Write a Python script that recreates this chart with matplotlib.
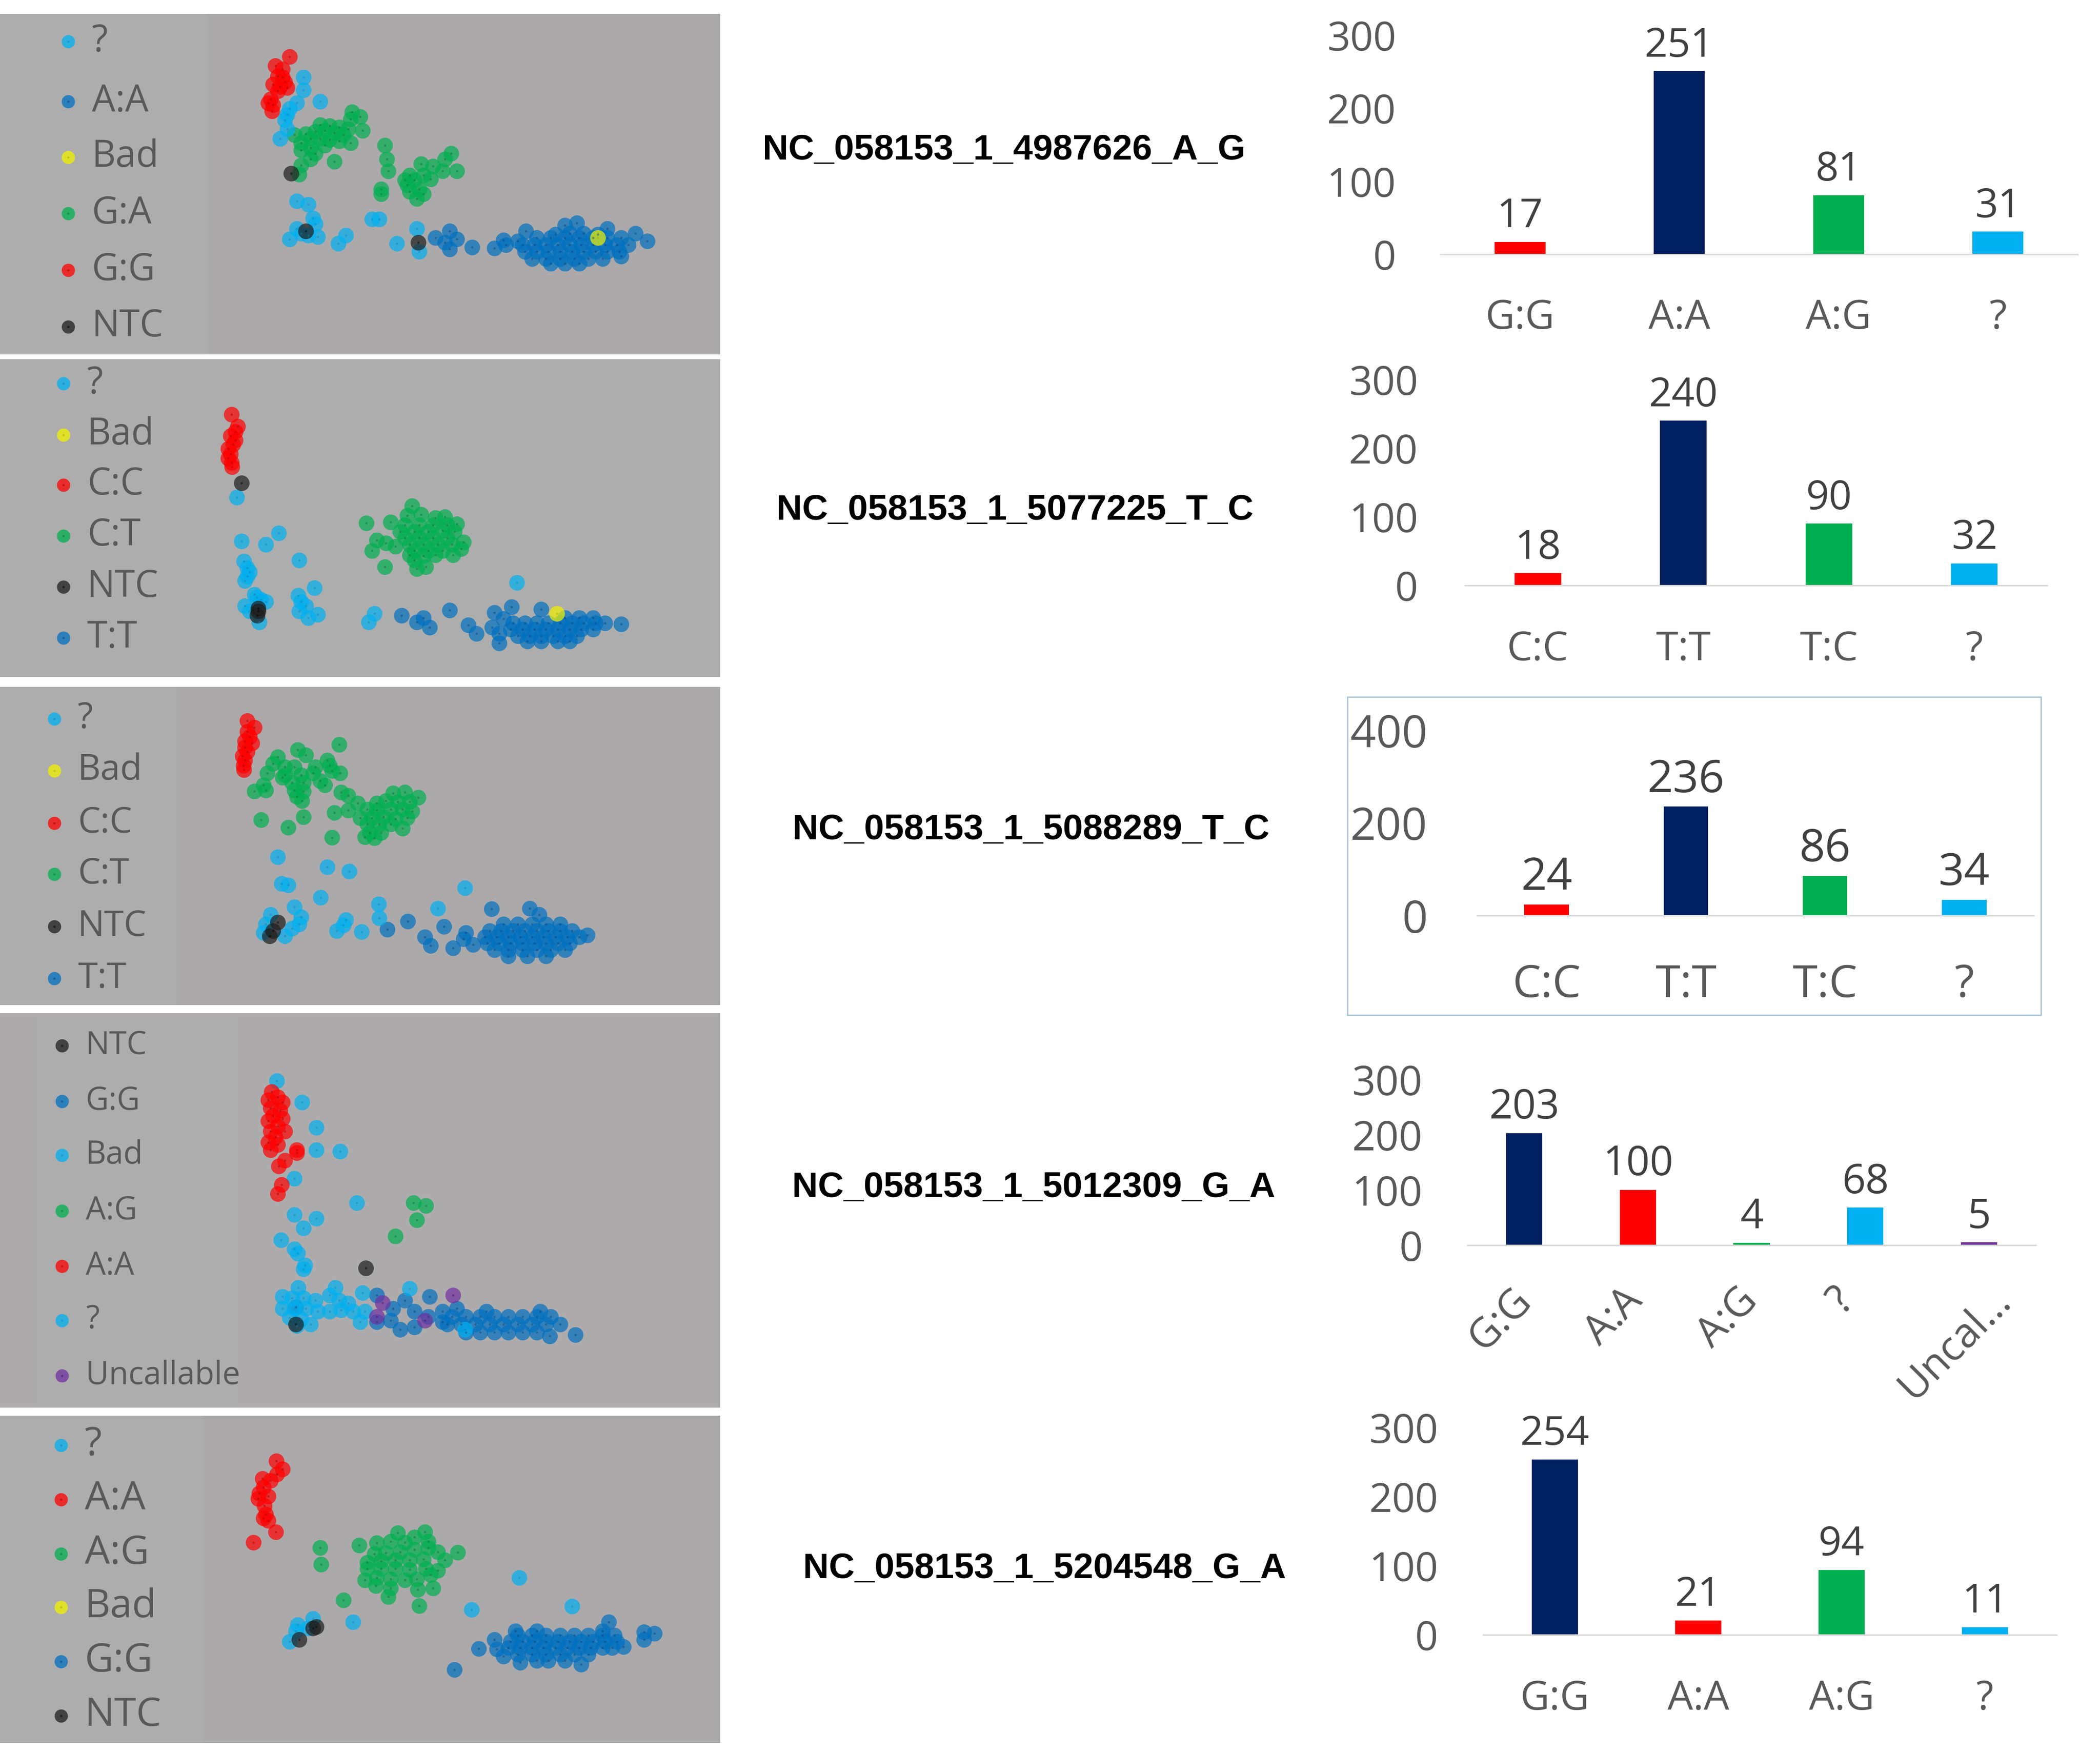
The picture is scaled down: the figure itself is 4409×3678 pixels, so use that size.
import matplotlib.pyplot as plt
from matplotlib.patches import Rectangle

# ---------------- figure geometry (pixels of the final image) ----------------
W, H = 4409, 3678
fig = plt.figure(figsize=(W / 100, H / 100), dpi=100, facecolor='white')


def box(x0, y0, x1, y1):
    """pixel box (top-left origin) -> figure fraction rect"""
    return [x0 / W, 1 - y1 / H, (x1 - x0) / W, (y1 - y0) / H]


# ---------------- colours ----------------
LBLUE = '#00b0f0'
BLUE = '#0070c0'
NAVY = '#002060'
GREEN = '#00b050'
RED = '#ff0000'
YELLOW = '#f2f200'
BLACK = '#1e1e1e'
PURPLE = '#7030a0'
DOT = {LBLUE: '#1c7fae', BLUE: '#123f70', GREEN: '#126b38', RED: '#a00000',
       YELLOW: '#a8a800', BLACK: '#000000', PURPLE: '#3c1660'}

# ---------------- cluster plot data (signal units) ----------------
# panel 1 : NC_058153_1_4987626_A_G
p1_aa = [(925, 1030), (955, 1000), (945, 1050), (970, 1035), (955, 1080), (1003, 1070),
         (1050, 1075), (1075, 1060), (1070, 1040), (1117, 1000), (1100, 1045), (1200, 975),
         (1225, 965), (1290, 990), (1350, 1010), (1375, 1045), (1180, 1015), (1210, 1010),
         (1240, 1010), (1270, 1015), (1320, 1110),
         (1140, 1030), (1170, 1030), (1200, 1030), (1230, 1030), (1260, 1030), (1290, 1030), (1320, 1030),
         (1110, 1060), (1135, 1060), (1160, 1060), (1185, 1060), (1210, 1060), (1235, 1060),
         (1260, 1060), (1285, 1060), (1310, 1060), (1335, 1060),
         (1115, 1090), (1140, 1090), (1165, 1090), (1190, 1090), (1215, 1090), (1240, 1090),
         (1265, 1090), (1290, 1090), (1315, 1090),
         (1130, 1120), (1160, 1120), (1190, 1120), (1220, 1120), (1250, 1120), (1280, 1120),
         (1170, 1140), (1200, 1140), (1230, 1140)]
p1_ga = [(748, 485), (765, 505), (745, 515), (680, 540), (700, 545), (720, 550), (740, 560),
         (770, 565), (625, 585), (650, 580), (670, 570), (690, 565), (710, 575), (730, 585),
         (660, 600), (680, 600), (700, 605), (720, 610), (745, 620), (640, 620), (660, 640),
         (690, 630), (640, 650), (670, 665), (660, 690), (710, 700), (640, 715), (635, 755),
         (818, 630), (822, 690), (825, 740), (810, 820), (810, 840), (895, 710), (920, 720),
         (945, 690), (958, 665), (970, 740), (870, 760), (865, 800), (880, 780), (900, 760),
         (915, 775), (890, 820), (870, 830), (885, 860), (900, 840), (940, 740), (860, 780)]
p1_gg = [(615, 245), (585, 285), (600, 300), (590, 330), (600, 335), (605, 355), (580, 365),
         (595, 375), (610, 380), (590, 395), (575, 430), (570, 445), (580, 455), (578, 480)]
p1_q = [(645, 335), (645, 390), (680, 440), (630, 445), (615, 470), (610, 495), (605, 520),
        (610, 560), (595, 600), (630, 870), (655, 885), (665, 945), (670, 970), (630, 990),
        (640, 1010), (655, 1020), (675, 1025), (615, 1035), (735, 1020), (718, 1055),
        (790, 950), (805, 950), (843, 1055), (885, 990), (890, 1090)]
p1_bad = [(1270, 1030)]
p1_ntc = [(618, 752), (650, 1000), (888, 1050)]

# panel 2 : NC_058153_1_5077225_T_C
p2_tt = [(853, 1215), (885, 1245), (900, 1225), (913, 1270), (955, 1190), (995, 1260),
         (1012, 1300), (1050, 1200), (1087, 1175), (1070, 1230), (1150, 1185), (1045, 1270),
         (1060, 1300), (1060, 1345), (1320, 1255),
         (1200, 1225), (1230, 1225), (1260, 1225),
         (1090, 1250), (1115, 1250), (1140, 1250), (1165, 1250), (1190, 1250), (1215, 1250),
         (1240, 1250), (1265, 1250), (1285, 1250),
         (1085, 1280), (1110, 1280), (1135, 1280), (1160, 1280), (1185, 1280), (1210, 1280),
         (1235, 1280), (1260, 1280),
         (1100, 1310), (1125, 1310), (1150, 1310), (1175, 1310), (1200, 1310), (1225, 1310),
         (1120, 1335), (1150, 1335), (1185, 1335), (1210, 1335)]
p2_ct = [(875, 700), (865, 745), (895, 740), (925, 755), (945, 750), (830, 775), (778, 780),
         (860, 790), (890, 790), (920, 790), (950, 790), (970, 785), (850, 820), (880, 820),
         (910, 820), (940, 815), (965, 820), (860, 850), (890, 850), (920, 850), (950, 850),
         (985, 870), (800, 860), (820, 875), (840, 890), (870, 880), (900, 880), (930, 880),
         (960, 880), (790, 910), (880, 910), (910, 910), (940, 910), (980, 900), (870, 930),
         (900, 935), (925, 930), (962, 930), (880, 955), (818, 985), (885, 995), (905, 985)]
p2_cc = [(492, 270), (505, 325), (500, 350), (490, 370), (500, 390), (495, 410), (485, 430),
         (490, 455), (485, 475), (492, 495), (493, 515)]
p2_q = [(503, 660), (513, 865), (565, 880), (592, 828), (635, 955), (518, 960), (525, 990),
        (530, 1010), (525, 1030), (520, 1050), (668, 1085), (633, 1120), (640, 1150),
        (650, 1170), (635, 1195), (655, 1225), (675, 1210), (540, 1115), (555, 1140),
        (565, 1150), (520, 1170), (530, 1195), (550, 1245), (545, 1130), (1098, 1060),
        (795, 1205), (783, 1245)]
p2_bad = [(1183, 1205)]
p2_ntc = [(513, 592), (548, 1180), (546, 1215), (548, 1195)]

# panel 3 : NC_058153_1_5088289_T_C
p3_tt = [(1044, 1048), (1125, 1045), (1145, 1075), (866, 1105), (943, 1130), (823, 1145),
         (903, 1180), (915, 1220), (962, 1232), (990, 1160), (1005, 1215), (985, 1190), (1248, 1170),
         (1070, 1120), (1100, 1120), (1130, 1120), (1160, 1120), (1190, 1120),
         (1040, 1150), (1065, 1150), (1090, 1150), (1115, 1150), (1140, 1150), (1165, 1150),
         (1190, 1150), (1215, 1150),
         (1030, 1180), (1055, 1180), (1080, 1180), (1105, 1180), (1130, 1180), (1155, 1180),
         (1180, 1180), (1205, 1180), (1230, 1180),
         (1035, 1210), (1060, 1210), (1085, 1210), (1110, 1210), (1135, 1210), (1160, 1210),
         (1185, 1210), (1210, 1210),
         (1050, 1240), (1080, 1240), (1110, 1240), (1140, 1240), (1170, 1240), (1200, 1240),
         (1080, 1270), (1120, 1270), (1160, 1270)]
p3_ct = [(720, 275), (632, 300), (650, 325), (590, 335), (695, 350), (580, 365), (605, 380),
         (625, 380), (670, 380), (700, 375), (568, 410), (605, 420), (640, 420), (665, 410),
         (722, 410), (705, 400), (600, 430), (620, 455), (645, 455), (680, 445), (690, 465),
         (560, 465), (540, 495), (565, 490), (625, 490), (645, 495), (630, 520), (642, 540),
         (555, 630), (612, 665), (645, 615), (710, 595), (705, 712),
         (725, 500), (740, 515), (835, 505), (860, 500), (888, 525), (760, 550), (800, 550),
         (820, 540), (845, 545), (870, 545), (740, 585), (780, 580), (800, 585), (830, 580),
         (855, 580), (875, 590), (765, 620), (790, 620), (815, 615), (840, 625), (865, 620),
         (780, 650), (805, 650), (830, 650), (855, 670), (785, 690), (810, 690), (795, 715),
         (775, 710)]
p3_cc = [(525, 165), (540, 195), (525, 215), (530, 240), (520, 260), (535, 270), (520, 290),
         (525, 310), (515, 330), (520, 350), (517, 375), (518, 395)]
p3_q = [(590, 805), (695, 850), (742, 870), (598, 930), (612, 935), (681, 995), (625, 1040),
        (575, 1075), (640, 1085), (635, 1120), (620, 1140), (605, 1175), (565, 1120),
        (560, 1160), (988, 950), (804, 1025), (805, 1090), (735, 1100), (730, 1125),
        (715, 1150), (768, 1155), (930, 1045)]
p3_ntc = [(590, 1110), (580, 1150), (573, 1175)]

# panel 4 : NC_058153_1_5012309_G_A
p4_gg = [(628, 1125), (800, 1080), (860, 1100), (913, 1085), (835, 1130), (880, 1140),
         (910, 1160), (940, 1140), (970, 1130), (800, 1180), (830, 1175), (850, 1210),
         (880, 1200), (940, 1180), (1033, 1140), (1222, 1230), (1168, 1235), (1148, 1140),
         (960, 1160), (990, 1160), (1020, 1160), (1050, 1160), (1080, 1160), (1110, 1160),
         (1140, 1160), (1170, 1160),
         (950, 1190), (980, 1190), (1010, 1190), (1040, 1190), (1070, 1190), (1100, 1190),
         (1130, 1190), (1160, 1190), (1190, 1190),
         (990, 1220), (1020, 1220), (1050, 1220), (1080, 1220), (1110, 1220), (1140, 1220)]
p4_q = [(588, 268), (642, 350), (672, 445), (672, 530), (722, 535), (625, 638), (758, 730),
        (625, 775), (672, 790), (645, 825), (597, 870), (625, 905), (632, 920), (648, 965),
        (645, 980), (633, 1050), (712, 1050), (600, 1085), (620, 1090), (645, 1090),
        (670, 1100), (700, 1080), (720, 1100), (770, 1070), (740, 1110), (600, 1130),
        (625, 1130), (650, 1130), (675, 1140), (700, 1140), (725, 1135), (750, 1140),
        (775, 1140), (615, 1165), (640, 1170), (660, 1190), (630, 1195), (765, 1180),
        (870, 1055), (988, 1210)]
p4_aa = [(577, 310), (590, 330), (600, 350), (570, 340), (575, 370), (595, 380), (580, 400),
         (600, 410), (570, 420), (590, 440), (605, 460), (575, 460), (585, 480), (570, 500),
         (590, 510), (575, 530), (630, 530), (630, 540), (605, 570), (592, 590), (598, 662),
         (590, 695)]
p4_ag = [(878, 730), (905, 740), (885, 795), (840, 855)]
p4_unc = [(962, 1080), (813, 1108), (800, 1160), (903, 1175)]
p4_ntc = [(777, 977), (628, 1190)]

# panel 5 : NC_058153_1_5204548_G_A
p5_gg = [(1293, 945), (1368, 995), (1390, 1000), (1368, 1030), (1017, 1073), (965, 1175),
         (1235, 1150), (1050, 1030), (1055, 1075), (1070, 1110), (1105, 1140), (1325, 1065),
         (1095, 990), (1140, 990), (1280, 990),
         (1100, 1010), (1130, 1010), (1160, 1010), (1190, 1010), (1220, 1010), (1250, 1010),
         (1280, 1010), (1305, 1010),
         (1085, 1040), (1110, 1040), (1135, 1040), (1160, 1040), (1185, 1040), (1210, 1040),
         (1235, 1040), (1260, 1040), (1285, 1040), (1310, 1040),
         (1080, 1070), (1105, 1070), (1130, 1070), (1155, 1070), (1180, 1070), (1205, 1070),
         (1230, 1070), (1255, 1070), (1280, 1070), (1300, 1070),
         (1100, 1100), (1130, 1100), (1160, 1100), (1190, 1100), (1220, 1100), (1250, 1100),
         (1140, 1130), (1165, 1130), (1200, 1130)]
p5_ag = [(680, 590), (682, 670), (763, 580), (800, 568), (845, 520), (903, 515), (830, 560),
         (860, 565), (880, 540), (910, 560), (795, 620), (820, 615), (850, 610), (880, 600),
         (910, 590), (930, 610), (972, 613), (780, 660), (810, 655), (840, 650), (870, 650),
         (900, 645), (945, 650), (780, 690), (810, 690), (840, 690), (870, 695), (905, 690),
         (930, 700), (775, 745), (800, 735), (830, 740), (860, 745), (885, 740), (915, 720),
         (798, 772), (830, 785), (887, 790), (920, 785), (825, 825), (730, 842), (890, 868)]
p5_aa = [(587, 175), (600, 215), (588, 240), (575, 270), (558, 260), (560, 300), (550, 330),
         (570, 345), (548, 355), (562, 390), (565, 430), (560, 450), (570, 460), (586, 515),
         (538, 565)]
p5_q = [(1103, 733), (1215, 870), (1002, 887), (750, 947), (665, 930), (632, 960), (628, 990),
        (615, 1040), (655, 975)]
p5_ntc = [(665, 975), (672, 968), (635, 1030)]

# ---------------- count chart data ----------------
c1_cats = ['G:G', 'A:A', 'A:G', '?']
c1_vals = [17, 251, 81, 31]
c2_cats = ['C:C', 'T:T', 'T:C', '?']
c2_vals = [18, 240, 90, 32]
c3_cats = ['C:C', 'T:T', 'T:C', '?']
c3_vals = [24, 236, 86, 34]
c4_cats = ['G:G', 'A:A', 'A:G', '?', 'Uncal…']
c4_vals = [203, 100, 4, 68, 5]
c5_cats = ['G:G', 'A:A', 'A:G', '?']
c5_vals = [254, 21, 94, 11]

snp_names = ['NC_058153_1_4987626_A_G', 'NC_058153_1_5077225_T_C', 'NC_058153_1_5088289_T_C',
             'NC_058153_1_5012309_G_A', 'NC_058153_1_5204548_G_A']

TXT = '#595959'
FONT = 'Open Sans'


def cluster_panel(rect, ylim, bg, legend_box, groups, legend, leg_y, leg_x, fs):
    ax = fig.add_axes(rect)
    ax.set_xlim(0, 1530)
    ax.set_ylim(*ylim)          # signal units, top of panel is the smaller value
    ax.axis('off')
    top, bottom = ylim[1], ylim[0]
    ax.add_patch(Rectangle((0, top), 1530, bottom - top, facecolor=bg, lw=0, zorder=0))
    if legend_box is not None:
        x0, y0, x1, y1 = legend_box
        ax.add_patch(Rectangle((x0, y0), x1 - x0, y1 - y0, facecolor='#adadad', lw=0, zorder=0.5))
    for pts, col in groups:
        xs = [p[0] for p in pts]
        ys = [p[1] for p in pts]
        ax.scatter(xs, ys, s=560, color=col, alpha=0.7, lw=0, zorder=2)
        ax.scatter(xs, ys, s=12, color=DOT[col], alpha=0.45, lw=0, zorder=2.5)
    for (lab, col), y in zip(legend, leg_y):
        ax.scatter([leg_x], [y], s=400, color=col, alpha=0.75, lw=0, zorder=3)
        ax.scatter([leg_x], [y], s=12, color=DOT[col], alpha=0.5, lw=0, zorder=3.5)
        ax.text(leg_x + 50, y, lab, fontsize=fs, color=TXT, family=FONT,
                va='center', ha='left', zorder=4)
    return ax


cluster_panel(box(0, 29, 1512, 744), (1535, 60), '#aca9aa', (0, 60, 440, 1535),
              [(p1_aa, BLUE), (p1_ga, GREEN), (p1_gg, RED), (p1_q, LBLUE),
               (p1_bad, YELLOW), (p1_ntc, BLACK)],
              [('?', LBLUE), ('A:A', BLUE), ('Bad', YELLOW), ('G:A', GREEN),
               ('G:G', RED), ('NTC', BLACK)],
              [180, 440, 680, 925, 1170, 1415], 145, 56)

cluster_panel(box(0, 754, 1512, 1421), (1503, 10), '#adadad', None,
              [(p2_tt, BLUE), (p2_ct, GREEN), (p2_cc, RED), (p2_q, LBLUE),
               (p2_bad, YELLOW), (p2_ntc, BLACK)],
              [('?', LBLUE), ('Bad', YELLOW), ('C:C', RED), ('C:T', GREEN),
               ('NTC', BLACK), ('T:T', BLUE)],
              [125, 365, 600, 840, 1080, 1320], 135, 56)

cluster_panel(box(0, 1442, 1512, 2110), (1500, 5), '#aca9aa', (0, 5, 375, 1500),
              [(p3_tt, BLUE), (p3_ct, GREEN), (p3_cc, RED), (p3_q, LBLUE), (p3_ntc, BLACK)],
              [('?', LBLUE), ('Bad', YELLOW), ('C:C', RED), ('C:T', GREEN),
               ('NTC', BLACK), ('T:T', BLUE)],
              [155, 400, 645, 885, 1130, 1375], 115, 54)

cluster_panel(box(0, 2127, 1512, 2955), (1505, 12), '#aeabac', (80, 30, 500, 1490),
              [(p4_gg, BLUE), (p4_q, LBLUE), (p4_aa, RED), (p4_ag, GREEN),
               (p4_unc, PURPLE), (p4_ntc, BLACK)],
              [('NTC', BLACK), ('G:G', BLUE), ('Bad', LBLUE), ('A:G', GREEN),
               ('A:A', RED), ('?', LBLUE), ('Uncallable', PURPLE)],
              [135, 345, 550, 760, 970, 1175, 1385], 132, 48)

cluster_panel(box(0, 2972, 1512, 3659), (1525, -41), '#aca9aa', (0, -41, 430, 1525),
              [(p5_gg, BLUE), (p5_ag, GREEN), (p5_aa, RED), (p5_q, LBLUE), (p5_ntc, BLACK)],
              [('?', LBLUE), ('A:A', RED), ('A:G', GREEN), ('Bad', YELLOW),
               ('G:G', BLUE), ('NTC', BLACK)],
              [100, 360, 620, 875, 1135, 1395], 130, 60)

# ---------------- SNP names ----------------
for name, (cx, cy) in zip(snp_names, [(2108, 315), (2131, 1071), (2165, 1742),
                                     (2170, 2494), (2193, 3293)]):
    fig.text(cx / W, 1 - cy / H, name, ha='center', va='center', fontsize=54,
             fontweight='bold', family='Liberation Sans', color='black')


# ---------------- genotype count charts ----------------
def count_chart(rect, cats, vals, colors, ymax, step, fs, ypad, xpad, rotate=False):
    ax = fig.add_axes(rect)
    xs = list(range(len(cats)))
    bars = ax.bar(xs, vals, width=0.32, color=colors, zorder=2)
    ax.set_xlim(-0.5, len(cats) - 0.5)
    ax.set_ylim(0, ymax)
    ax.set_yticks(range(0, ymax + 1, step))
    ax.patch.set_visible(False)
    for s in ('top', 'right', 'left'):
        ax.spines[s].set_visible(False)
    ax.spines['bottom'].set_color('#d9d9d9')
    ax.spines['bottom'].set_linewidth(2.2)
    ax.tick_params(axis='both', length=0, labelsize=fs, labelcolor=TXT)
    ax.tick_params(axis='y', pad=ypad)
    for lab in ax.get_yticklabels():
        lab.set_family(FONT)
    ax.set_xticks(xs)
    if rotate:
        ax.set_xticklabels([])
        for x, c in zip(xs, cats):
            ax.annotate(c, (x, 0), xytext=(-36, -53), textcoords='offset points',
                        rotation=45, ha='center', va='top',
                        fontsize=fs, color=TXT, family=FONT)
    else:
        ax.set_xticklabels(cats, family=FONT)
        ax.tick_params(axis='x', pad=xpad)
    for b, v in zip(bars, vals):
        ax.annotate(str(v), (b.get_x() + b.get_width() / 2, v), xytext=(0, 22),
                    textcoords='offset points', ha='center', va='baseline',
                    fontsize=fs, color='#404040', family=FONT)
    return ax


count_chart(box(3024, 74, 4362, 534), c1_cats, c1_vals, [RED, NAVY, GREEN, LBLUE],
            300, 100, 61, 67, 66)
count_chart(box(3076, 797, 4298, 1229), c2_cats, c2_vals, [RED, NAVY, GREEN, LBLUE],
            300, 100, 61, 71, 67)
count_chart(box(3101, 1534, 4270, 1922), c3_cats, c3_vals, [RED, NAVY, GREEN, LBLUE],
            400, 200, 68, 75, 72)
count_chart(box(3081, 2266, 4274, 2614), c4_cats, c4_vals, [NAVY, RED, GREEN, LBLUE, PURPLE],
            300, 100, 62, 68, 60, rotate=True)
count_chart(box(3114, 2997, 4318, 3432), c5_cats, c5_vals, [NAVY, RED, GREEN, LBLUE],
            300, 100, 61, 68, 67)

# thin frame around the third chart
fig.add_artist(Rectangle((2829 / W, 1 - 2131 / H), (4285 - 2829) / W, (2131 - 1463) / H,
                         transform=fig.transFigure, fill=False, edgecolor='#a7c3d8', lw=2))

fig.savefig('out.png', dpi=100, facecolor='white')
